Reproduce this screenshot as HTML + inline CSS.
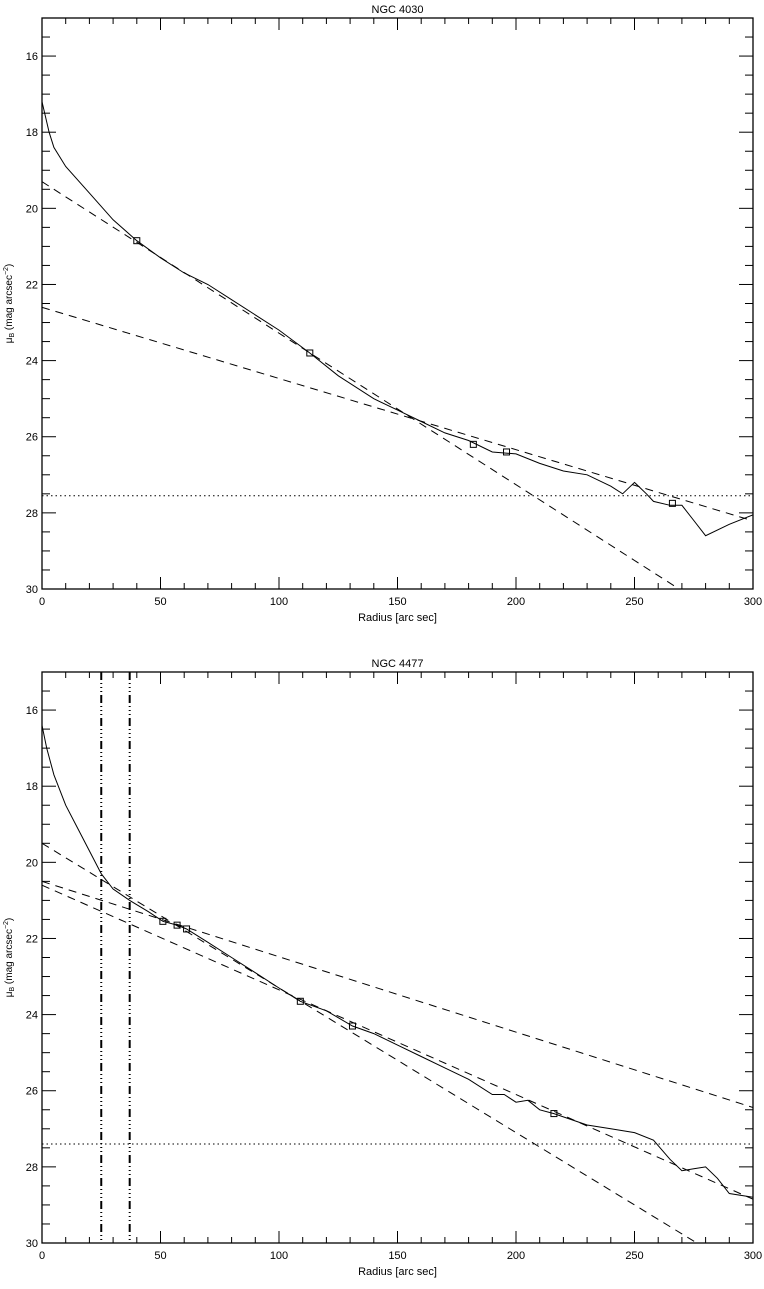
<!DOCTYPE html>
<html><head><meta charset="utf-8"><style>
html,body{margin:0;padding:0;background:#fff}
svg text{font-family:"Liberation Sans",sans-serif;fill:#000}
</style></head><body>
<svg id="fig" width="764" height="1284" viewBox="0 0 764 1284" xmlns="http://www.w3.org/2000/svg"></svg>
<script>
// ---- data: NGC 4030 ----
const topRadius=[0,3,5,10,20,30,40,50,60,70,80,90,100,113,125,140,150,160,170,180,190,200,210,220,230,240,245,250,255,258,265,270,275,280,290,300];
const topMu=[17.2,18.0,18.4,18.9,19.6,20.3,20.85,21.3,21.7,22.0,22.4,22.8,23.2,23.8,24.4,25.0,25.3,25.6,25.9,26.1,26.4,26.45,26.7,26.9,27.0,27.3,27.5,27.2,27.5,27.7,27.8,27.8,28.2,28.6,28.3,28.05];
const topFitIntercepts=[19.3,22.6];
const topFitSlopes=[0.0398,0.0187];
const topMarkerR=[40,113,182,196,266];
const topMarkerMu=[20.85,23.8,26.2,26.4,27.75];
const topLimit=27.55;
const topVerticals=[];
// ---- data: NGC 4477 ----
const botRadius=[0,2,5,10,15,20,25,30,37,45,51,57,61,70,80,90,100,109,120,131,140,150,160,170,180,190,195,200,205,210,216,230,240,250,258,265,270,275,280,285,290,300];
const botMu=[16.4,17.0,17.7,18.5,19.1,19.7,20.3,20.7,21.0,21.3,21.55,21.65,21.75,22.1,22.5,22.9,23.3,23.65,23.9,24.3,24.5,24.8,25.1,25.4,25.7,26.1,26.1,26.3,26.25,26.5,26.6,26.9,27.0,27.1,27.3,27.8,28.1,28.05,28.0,28.3,28.7,28.8];
const botFitIntercepts=[19.5,20.6,20.5];
const botFitSlopes=[0.038,0.0275,0.0198];
const botMarkerR=[51,57,61,109,131,216];
const botMarkerMu=[21.55,21.65,21.75,23.65,24.3,26.6];
const botLimit=27.4;
const botVerticals=[25,37];
const xTicks=[0,50,100,150,200,250,300];
const yTicks=[16,18,20,22,24,26,28,30];

const NS="http://www.w3.org/2000/svg";
const svg=document.getElementById('fig');
function mk(tag,attrs,parent){const e=document.createElementNS(NS,tag);for(const k in attrs)e.setAttribute(k,attrs[k]);(parent||svg).appendChild(e);return e;}

function panel(name,top,title,R,M,ints,slopes,mr,mm,limit,verts){
  const L=42,Rt=753,T=top,B=top+571;
  const sx=r=>L+(r/300)*(Rt-L);
  const sy=m=>T+(m-15)/15*(B-T);
  const g=mk('g',{});
  
  
  const frame=mk('rect',{x:L,y:T,width:Rt-L,height:B-T,fill:'none',stroke:'#000','stroke-width':1.3},g);
  
  
  // x ticks
  for(let r=0;r<=300;r+=10){
    const x=sx(r),len=(r%50===0)?12:6;
    mk('line',{x1:x,y1:B,x2:x,y2:B-len,stroke:'#000'},g);
    mk('line',{x1:x,y1:T,x2:x,y2:T+len,stroke:'#000'},g);
  }
  xTicks.forEach(v=>{const t=mk('text',{x:sx(v),y:B+16,'font-size':11,'text-anchor':'middle'},g);t.textContent=v;
    
    });
  for(let m=15;m<=30.001;m+=0.5){
    const y=sy(m),len=(Math.abs(m-Math.round(m))<0.01&&Math.round(m)%2===0)?14:8;
    mk('line',{x1:L,y1:y,x2:L+len,y2:y,stroke:'#000'},g);
    mk('line',{x1:Rt,y1:y,x2:Rt-len,y2:y,stroke:'#000'},g);
  }
  yTicks.forEach(v=>{const t=mk('text',{x:L-4,y:sy(v)+4,'font-size':11,'text-anchor':'end'},g);t.textContent=v;
    
    });
  const tt=mk('text',{x:(L+Rt)/2,y:T-5,'font-size':11,'text-anchor':'middle'},g);tt.textContent=title;
  
  
  const xl=mk('text',{x:(L+Rt)/2,y:B+32,'font-size':11,'text-anchor':'middle'},g);xl.textContent='Radius [arc sec]';
  
  
  const yl=mk('text',{x:0,y:0,'font-size':10,'text-anchor':'middle',transform:`translate(12,${(T+B)/2}) rotate(-90)`},g);
  yl.innerHTML='μ<tspan font-size="7" dy="2">B</tspan><tspan dy="-2"> (mag arcsec</tspan><tspan font-size="7" dy="-4">−2</tspan><tspan dy="4">)</tspan>';
  
  
  const defs=mk('clipPath',{id:'clip-'+name},g);mk('rect',{x:L,y:T,width:Rt-L,height:B-T},defs);
  const pg=mk('g',{'clip-path':`url(#clip-${name})`},g);
  // limit
  const lim=mk('line',{x1:L,y1:sy(limit),x2:Rt,y2:sy(limit),stroke:'#000','stroke-dasharray':'1.5,3'},pg);
  
  
  verts.forEach(v=>{const l=mk('line',{x1:sx(v),y1:T,x2:sx(v),y2:B,stroke:'#000','stroke-width':2,'stroke-dasharray':'8,3,1,3,1,3,1,3'},pg);
    
    });
  ints.forEach((a,i)=>{const b=slopes[i];
    const l=mk('line',{x1:sx(0),y1:sy(a),x2:sx(300),y2:sy(a+b*300),stroke:'#000','stroke-dasharray':'8,6'},pg);
    
    });
  const pts=R.map((r,i)=>sx(r).toFixed(1)+','+sy(M[i]).toFixed(1)).join(' ');
  const pl=mk('polyline',{points:pts,fill:'none',stroke:'#000','stroke-width':1},pg);
  
  
  mr.forEach((r,i)=>{const s=mk('rect',{x:sx(r)-3,y:sy(mm[i])-3,width:6,height:6,fill:'none',stroke:'#000'},pg);
    
    });
}
panel('ngc4030',18,'NGC 4030',topRadius,topMu,topFitIntercepts,topFitSlopes,topMarkerR,topMarkerMu,topLimit,topVerticals);
panel('ngc4477',672,'NGC 4477',botRadius,botMu,botFitIntercepts,botFitSlopes,botMarkerR,botMarkerMu,botLimit,botVerticals);
</script>
</body></html>
